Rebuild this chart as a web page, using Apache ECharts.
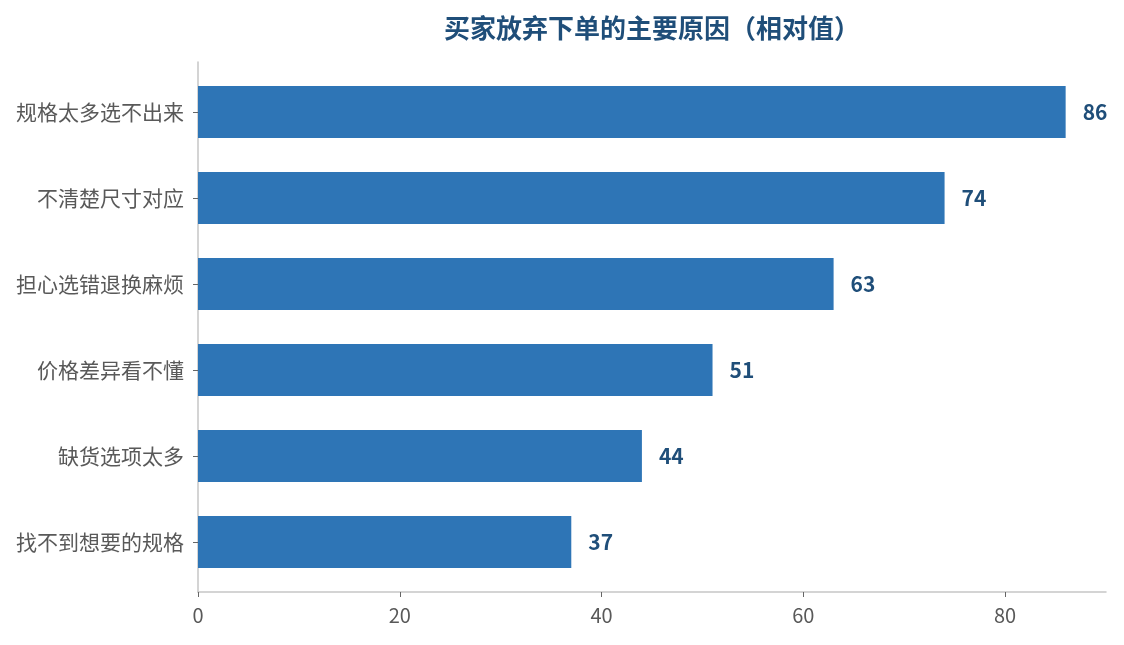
<!DOCTYPE html>
<html lang="zh-CN">

<head>
	<meta charset="utf-8">
	<title>买家放弃下单的主要原因</title>
	<style>
		html, body { margin: 0; padding: 0; background: #fff; }
		#panel { width: 1124px; height: 645px; }
	</style>
</head>

<body>
	<div id="panel"></div>
	<script src="https://cdn.jsdelivr.net/npm/echarts@6/dist/echarts.min.js"></script>
	<script type="text/javascript">
		// 数据（从上到下）
		const reasons = ['规格太多选不出来', '不清楚尺寸对应', '担心选错退换麻烦', '价格差异看不懂', '缺货选项太多', '找不到想要的规格'];
		const scores = [86, 74, 63, 51, 44, 37];
		const xTicks = [0, 20, 40, 60, 80];

		const font = '"Noto Sans CJK SC", "Noto Sans", sans-serif';
		const axisGray = '#c6c6c6';
		const panel = echarts.init(document.getElementById('panel'));

		let option = {
			animation: false,
			textStyle: { fontFamily: font },
			title: {
				text: '买家放弃下单的主要原因（相对值）',
				left: 647,
				textAlign: 'center',
				top: 10,
				textStyle: { color: '#1f4e79', fontSize: 26, fontWeight: 'bold', fontFamily: font }
			},
			// grid 0: 柱子；grid 1: 外框坐标轴（比柱子区域略大）
			grid: [
				{ left: 198, right: 18, top: 69, bottom: 60 },
				{ left: 198, right: 18, top: 62, bottom: 53 }
			],
			xAxis: [{
				gridIndex: 0,
				type: 'value',
				min: 0,
				max: 90,
				show: false
			}, {
				gridIndex: 1,
				type: 'value',
				min: 0,
				max: 90,
				interval: 20,
				axisLine: { show: true, lineStyle: { color: axisGray, width: 1.5 } },
				axisTick: { show: true, length: 5, lineStyle: { color: '#666' } },
				splitLine: { show: false },
				axisLabel: {
					color: '#595959', fontSize: 20, margin: 13, showMaxLabel: false,
					formatter: (v) => xTicks.indexOf(v) >= 0 ? String(v) : ''
				}
			}],
			yAxis: [{
				gridIndex: 0,
				type: 'category',
				inverse: true,
				data: reasons,
				axisLine: { show: false },
				axisTick: { show: true, length: 5, alignWithLabel: true, lineStyle: { color: '#666' } },
				axisLabel: { color: '#595959', fontSize: 21, margin: 14 }
			}, {
				gridIndex: 1,
				type: 'value',
				min: 0,
				max: 1,
				axisLine: { show: true, lineStyle: { color: axisGray, width: 1.5 } },
				axisTick: { show: false },
				axisLabel: { show: false },
				splitLine: { show: false }
			}],
			series: [{
				type: 'bar',
				xAxisIndex: 0,
				yAxisIndex: 0,
				data: scores,
				barWidth: 52,
				itemStyle: { color: '#2e75b6' },
				label: {
					show: true,
					position: 'right',
					distance: 17,
					color: '#1f4e79',
					fontSize: 21,
					fontWeight: 'bold'
				}
			}]
		};
		panel.setOption(option);
	</script>
</body>

</html>
